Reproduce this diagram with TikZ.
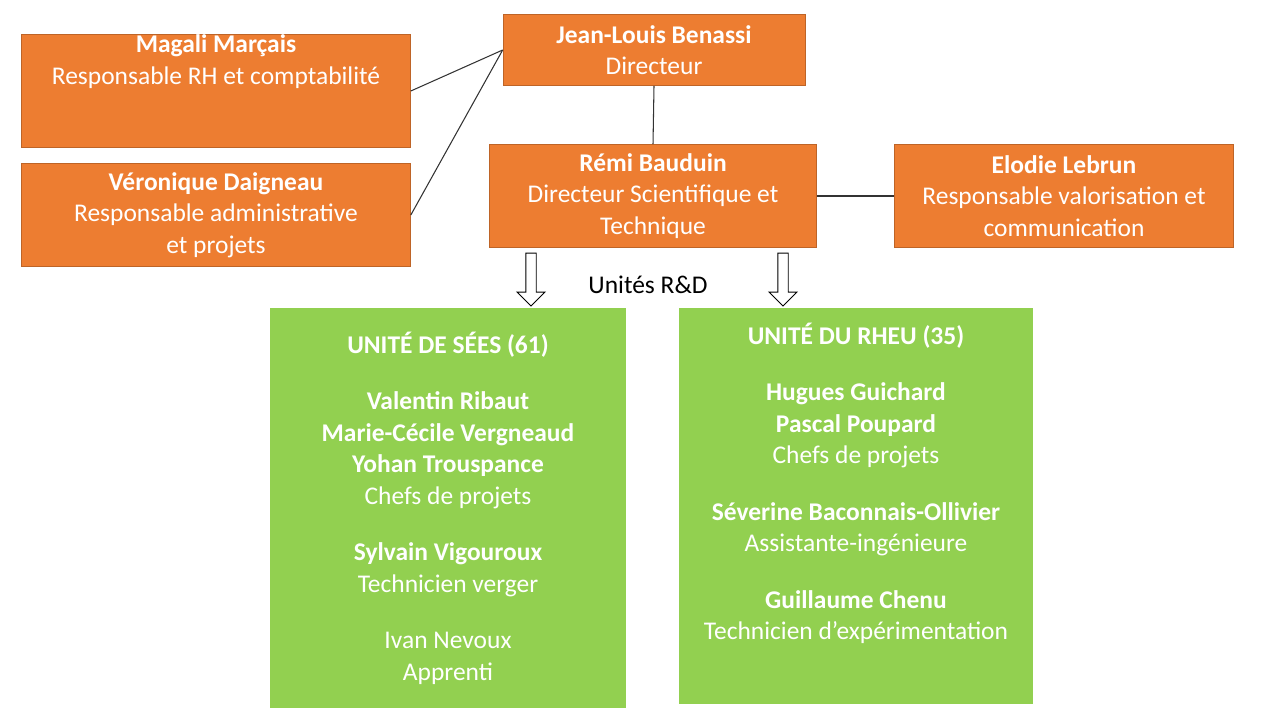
\documentclass[tikz,border=0pt]{standalone}
\usepackage{fontspec}
\setmainfont{Carlito}
\usetikzlibrary{shapes.arrows}
\definecolor{boxOrange}{RGB}{237, 125, 49}
\definecolor{boxGreen}{RGB}{146, 208, 80}
\tikzset{
  box/.style={rectangle,text=white,align=center,inner sep=0pt,
    font=\fontsize{14.5}{18}\selectfont},
  staff/.style={box,fill=boxOrange,draw=boxOrange!80!black,line width=0.4pt},
  unit/.style={box,fill=boxGreen},
  link/.style={draw=black!80,line width=0.6pt},
  down/.style={single arrow,draw=black,fill=white,line width=0.5pt,
    shape border rotate=270,minimum height=1.06cm,minimum width=0.56cm,
    single arrow head extend=0.1cm,inner sep=0.05cm}
}
\newcommand{\nm}[1]{\textbf{#1}}
\begin{document}
\begin{tikzpicture}[x=0.02cm,y=-0.02cm]
\useasboundingbox (0,0) rectangle (1280,720);
% direction
\node[staff,minimum width=6.04cm,minimum height=1.42cm] (jl) at (654,50)
  {\nm{Jean-Louis Benassi}\\\textsc{Directeur}};
\node[staff,minimum width=7.78cm,minimum height=2.06cm] (mag) at (216,91)
  {\nm{Magali Marçais}\\\textsc{Responsable RH et comptabilité}\\[18pt]};
\node[staff,minimum width=7.78cm,minimum height=2.06cm] (ver) at (216,215)
  {\nm{Véronique Daigneau}\\\textsc{Responsable administrative}\\\textsc{et projets}};
\node[staff,minimum width=6.54cm,minimum height=2.06cm] (remi) at (653,196)
  {\nm{Rémi Bauduin}\\\textsc{Directeur Scientifique et}\\\textsc{Technique}};
\node[staff,minimum width=6.78cm,minimum height=2.06cm] (elo) at (1064,196)
  {\nm{Elodie Lebrun}\\\textsc{Responsable valorisation et}\\\textsc{communication}};
% liens
\draw[link] (mag.east) -- (jl.west);
\draw[link] (ver.east) -- (jl.west);
\draw[link] (jl.south) -- (remi.north);
\draw[link] (remi.east) -- (elo.west);
% unites
\node[down] (flS) at (531,277) {};
\node[down] (flR) at (783,277) {};
\node[font=\fontsize{14.5}{18}\selectfont] (rd) at (648,285) {Unités R\&D};
\node[unit,minimum width=7.12cm,minimum height=8cm] (sees) at (448,508)
  {\nm{UNITÉ DE SÉES (61)}\\[14pt]
   \nm{Valentin Ribaut}\\\nm{Marie-Cécile Vergneaud}\\\nm{Yohan Trouspance}\\
   \textsc{Chefs de projets}\\[14pt]
   \nm{Sylvain Vigouroux}\\\textsc{Technicien verger}\\[14pt]
   Ivan Nevoux\\\textsc{Apprenti}};
\node[unit,minimum width=7.1cm,minimum height=7.92cm] (rheu) at (856,506)
  {\nm{UNITÉ DU RHEU (35)}\\[14pt]
   \nm{Hugues Guichard}\\\nm{Pascal Poupard}\\\textsc{Chefs de projets}\\[14pt]
   \nm{Séverine Baconnais-Ollivier}\\\textsc{Assistante-ingénieure}\\[14pt]
   \nm{Guillaume Chenu}\\\textsc{Technicien d’expérimentation}\\[10pt]};
\end{tikzpicture}
\end{document}
